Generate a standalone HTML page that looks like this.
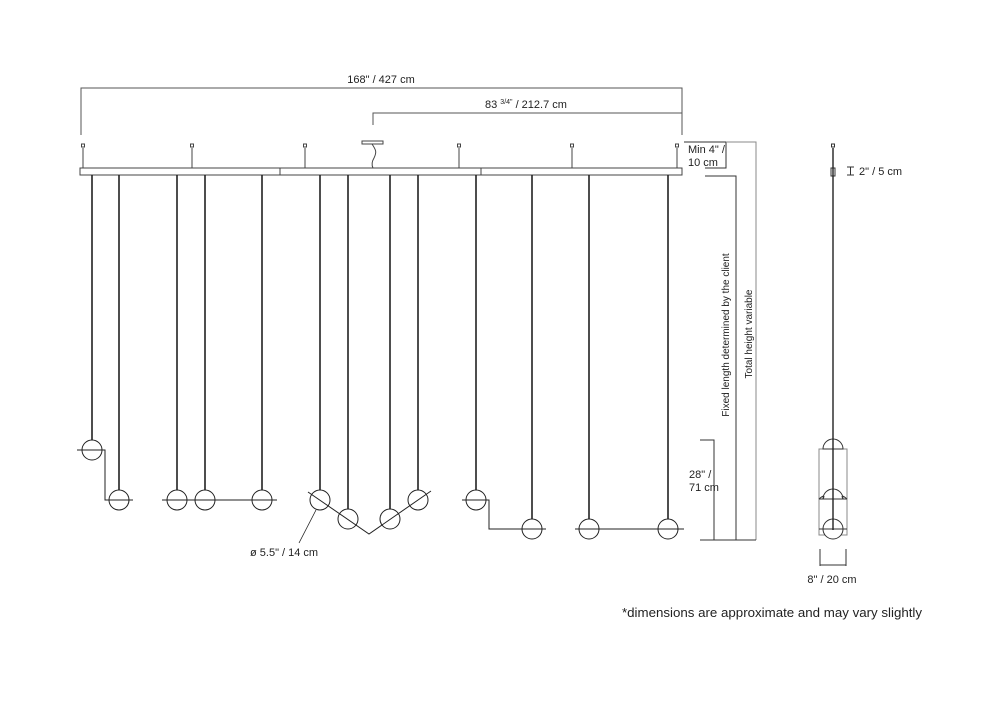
<!DOCTYPE html>
<html><head><meta charset="utf-8"><style>
body{margin:0;background:#fff;width:1000px;height:700px;overflow:hidden}
text{font-family:"Liberation Sans",sans-serif;fill:#222}
</style></head><body>
<svg width="1000" height="700" viewBox="0 0 1000 700" xmlns="http://www.w3.org/2000/svg">
<g stroke="#555" stroke-width="1" fill="none">
<path d="M81 135V88H682V135"/>
<path d="M373 125V113H682"/>
</g>
<text x="381" y="83" font-size="11" text-anchor="middle">168"  / 427 cm</text>
<text x="485" y="108" font-size="11">83 <tspan font-size="7" dy="-4">3/4"</tspan><tspan dy="4"> / 212.7 cm</tspan></text>
<g stroke="#444" stroke-width="1" fill="#fff">
<path d="M83 148V168M192 148V168M305 148V168M459 148V168M572 148V168M677 148V168"/>
<rect x="81.5" y="144" width="3" height="3"/><rect x="190.5" y="144" width="3" height="3"/><rect x="303.5" y="144" width="3" height="3"/><rect x="457.5" y="144" width="3" height="3"/><rect x="570.5" y="144" width="3" height="3"/><rect x="675.5" y="144" width="3" height="3"/>
<rect x="362" y="141" width="21" height="3"/>
<path d="M372 144C376 150 377 152 374 158C371 163 372 166 373 168" fill="none"/>
<rect x="80" y="168" width="602" height="7"/>
<path d="M280 168V175M481 168V175"/>
</g>
<g stroke="#222" stroke-width="1.6">
<path d="M92 175V440M119 175V490M177 175V490M205 175V490M262 175V490M320 175V490M348 175V509M390 175V509M418 175V490M476 175V490M532 175V519M589 175V519M668 175V519"/>
</g>
<g stroke="#222" stroke-width="1" fill="none">
<circle cx="92" cy="450" r="10"/>
<path d="M77 450H105V500H133"/>
<circle cx="119" cy="500" r="10"/>
<path d="M162 500H277"/>
<circle cx="177" cy="500" r="10"/><circle cx="205" cy="500" r="10"/><circle cx="262" cy="500" r="10"/>
<path d="M308 492L369 534L431 491"/>
<circle cx="320" cy="500" r="10"/><circle cx="348" cy="519" r="10"/><circle cx="390" cy="519" r="10"/><circle cx="418" cy="500" r="10"/>
<path d="M462 500H489V529H546"/>
<circle cx="476" cy="500" r="10"/><circle cx="532" cy="529" r="10"/>
<path d="M575 529H684"/>
<circle cx="589" cy="529" r="10"/><circle cx="668" cy="529" r="10"/>
<path d="M316 510L299 543" stroke-width="0.8"/>
</g>
<text x="250" y="556" font-size="11">ø 5.5" / 14 cm</text>
<g stroke="#333" stroke-width="1" fill="none">
<path d="M684 142H726V168H705"/>
<path d="M705 176H736V540"/>
<path d="M700 440H714V540"/>
<path d="M726 142H756V540" stroke="#888"/>
<path d="M700 540H756"/>
</g>
<text x="688" y="153" font-size="11">Min 4"  /</text>
<text x="688" y="166" font-size="11">10 cm</text>
<text x="689" y="478" font-size="11">28" /</text>
<text x="689" y="491" font-size="11">71 cm</text>
<text font-size="10" transform="translate(729 335) rotate(-90)" text-anchor="middle">Fixed length determined by the client</text>
<text font-size="10" transform="translate(752 334) rotate(-90)" text-anchor="middle">Total height variable</text>
<g stroke="#333" stroke-width="1" fill="#fff">
<rect x="831.5" y="144" width="3" height="3"/>
<rect x="831" y="168" width="4" height="8"/>
<rect x="819" y="449" width="28" height="86" fill="none" stroke="#888"/>
<path d="M823 449A10 10 0 0 1 843 449Z"/>
<path d="M823 499A10 10 0 0 1 843 499ZM819 499Q826 493 823 499M847 499Q840 493 843 499" />
<path d="M819 499H847"/>
<circle cx="833" cy="529" r="10"/>
<path d="M819 529H847"/>
<path d="M833 148V530" stroke="#222" stroke-width="1.4"/>
<path d="M820 549V566M846 549V566M820 565H846" fill="none"/>
<path d="M847 167H854M847 175H854M850.5 167V175" fill="none"/>
</g>
<text x="859" y="175" font-size="11">2" / 5 cm</text>
<text x="832" y="583" font-size="11" text-anchor="middle">8"  /  20 cm</text>
<text x="772" y="617" font-size="13.3" text-anchor="middle">*dimensions are approximate and may vary slightly</text>
</svg>
</body></html>
